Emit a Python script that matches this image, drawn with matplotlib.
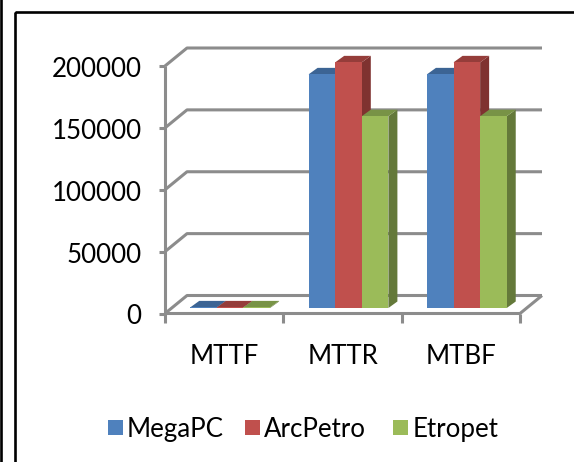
import matplotlib
matplotlib.use("Agg")
import matplotlib.pyplot as plt
from matplotlib.patches import Polygon, Rectangle

categories = ["MTTF", "MTTR", "MTBF"]
series_names = ["MegaPC", "ArcPetro", "Etropet"]
megapc = [500, 188800, 188800]
arcpetro = [500, 198500, 198500]
etropet = [500, 155000, 155000]
y_ticks = [0, 50000, 100000, 150000, 200000]

W, H = 574, 462
front_colors = ["#4F81BD", "#C0504D", "#9BBB59"]
top_colors = ["#3C6494", "#953D3A", "#789346"]
side_colors = ["#335680", "#7F3230", "#64793A"]
grid_color = "#8C8C8C"
font = "Lato"

fig = plt.figure(figsize=(W / 100, H / 100), dpi=100, facecolor="white")

# Outer frame and the stray rule at the far left
bg = fig.add_axes([0, 0, 1, 1])
bg.set_xlim(0, W)
bg.set_ylim(H, 0)
bg.axis("off")
bg.add_patch(Rectangle((15.3, 12.3), 600, 600, fill=False, ec="black", lw=1.9))
bg.plot([1, 1], [0, H], color="black", lw=1.9)

# Front plane of the 3-D chart box; depth is added in pixel offsets
left, right, bottom, top = 165, 520, 313.5, 66
ax = fig.add_axes([left / W, 1 - bottom / H, (right - left) / W, (bottom - top) / H])
ax.set_xlim(0, 3)
ax.set_ylim(0, 200000)
ax.patch.set_alpha(0)
ax.axis("off")

px_x = 3 / (right - left)
px_y = 200000 / (bottom - top)
depth_x, depth_y = 22 * px_x, 18 * px_y

def draw(xs, ys, **kw):
    ax.plot(xs, ys, color=grid_color, lw=2.2, clip_on=False, solid_capstyle="butt", **kw)

# Back wall gridlines, floor edges and tick marks
for v in y_ticks:
    draw([0, depth_x, 3 + depth_x], [v, v + depth_y, v + depth_y])
    draw([-6 * px_x, 0], [v, v])
draw([0, 0], [0, 200000])
draw([0, 3, 3 + depth_x], [0, 0, depth_y])
for i in range(4):
    draw([i, i], [0, -9 * px_y])

# Bars sit set back from the front plane by a fixed pixel offset
bar_w = 26.6 * px_x
bar_dx, bar_dy = 9 * px_x, 6.5 * px_y
off_x, off_y = 6 * px_x, 5.5 * px_y
values = [megapc, arcpetro, etropet]

for s, vals in enumerate(values):
    for c, v in enumerate(vals):
        x0 = c + 0.5 + off_x + (s - 1.5) * bar_w
        x1 = x0 + bar_w
        y0 = off_y
        y1 = off_y + v
        ax.add_patch(Polygon([(x1, y0), (x1 + bar_dx, y0 + bar_dy), (x1 + bar_dx, y1 + bar_dy), (x1, y1)],
                             fc=side_colors[s], ec="none", clip_on=False, zorder=3 + s))
        ax.add_patch(Polygon([(x0, y1), (x0 + bar_dx, y1 + bar_dy), (x1 + bar_dx, y1 + bar_dy), (x1, y1)],
                             fc=top_colors[s], ec="none", clip_on=False, zorder=3 + s))
        ax.bar(x0, v, width=bar_w, bottom=y0, align="edge", color=front_colors[s],
               clip_on=False, zorder=3 + s)

# Axis labels
for v in y_ticks:
    ax.text(-23.5 * px_x, v - 1 * px_y, str(v), ha="right", va="center_baseline",
            family=font, fontsize=18.6, color="black", clip_on=False)
for c, name in enumerate(categories):
    ax.text(c + 0.5, -40 * px_y, name, ha="center", va="center_baseline",
            family=font, fontsize=18.6, color="black", clip_on=False)

# Legend
for name, color, sx, tx in zip(series_names, front_colors, [108, 245, 393], [127, 264, 413]):
    bg.add_patch(Rectangle((sx, 420), 15, 15, fc=color, ec="none"))
    bg.text(tx, 427, name, ha="left", va="center_baseline", family=font, fontsize=18.6, color="black")

fig.savefig("out.png", dpi=100)
